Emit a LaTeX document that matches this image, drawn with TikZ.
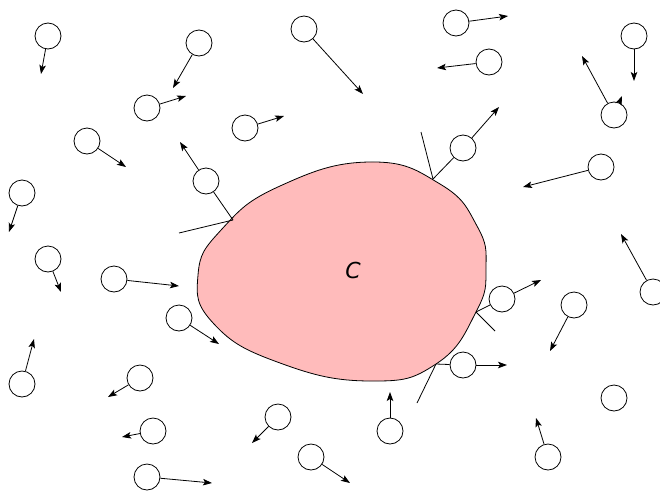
\documentclass[tikz,border=0pt]{standalone}
\usepackage{fontspec}
\usetikzlibrary{arrows.meta}
\newfontfamily\labelfont{DejaVu Sans}
\definecolor{bodypink}{RGB}{255,187,187}
\tikzset{
  grain/.style={draw, circle, minimum size=26pt, inner sep=0pt, line width=0.8pt},
  vel/.style={-{Stealth[length=9pt, width=6.5pt, inset=2pt]}, line width=0.8pt},
  touch/.style={line width=0.8pt},
  body/.style={draw, line width=0.8pt, fill=bodypink},
}

\begin{document}
\begin{tikzpicture}[x=1pt, y=-1pt]
  \useasboundingbox (0,0) rectangle (660,490);
  % the body
  \draw[body] plot[smooth cycle, tension=0.8] coordinates {(198,275) (222,229) (280,186) (370,162) (440,184) (477,226) (486,268) (476,312) (436,364) (370,381) (280,363) (214,324)};
  \node (clabel) at (353,270) {\labelfont\fontsize{22}{22}\selectfont\itshape C};
  % free grains
  \node[grain] (g1) at (48,36) {}; \coordinate (v1) at (41,74); \draw[vel] (g1) -- (v1);
  \node[grain] (g2) at (199,43) {}; \coordinate (v2) at (173,88); \draw[vel] (g2) -- (v2);
  \node[grain] (g3) at (147,108) {}; \coordinate (v3) at (186,96); \draw[vel] (g3) -- (v3);
  \node[grain] (g4) at (87,141) {}; \coordinate (v4) at (126,167); \draw[vel] (g4) -- (v4);
  \node[grain] (g5) at (304,29) {}; \coordinate (v5) at (363,94); \draw[vel] (g5) -- (v5);
  \node[grain] (g6) at (245,128) {}; \coordinate (v6) at (284,116); \draw[vel] (g6) -- (v6);
  \node[grain] (g7) at (456,23) {}; \coordinate (v7) at (508,16); \draw[vel] (g7) -- (v7);
  \node[grain] (g8) at (489,62) {}; \coordinate (v8) at (437,68); \draw[vel] (g8) -- (v8);
  \node[grain] (g9) at (634,36) {}; \coordinate (v9) at (634,81); \draw[vel] (g9) -- (v9);
  \node[grain] (g10) at (614,115) {}; \coordinate (v10) at (582,56); \draw[vel] (g10) -- (v10);
  \coordinate (w10) at (622,96); \draw[vel] (g10) -- (w10);
  \node[grain] (g11) at (601,167) {}; \coordinate (v11) at (523,187); \draw[vel] (g11) -- (v11);
  \node[grain] (g12) at (653,292) {}; \coordinate (v12) at (621,234); \draw[vel] (g12) -- (v12);
  \node[grain] (g13) at (574,305) {}; \coordinate (v13) at (550,351); \draw[vel] (g13) -- (v13);
  \node[grain] (g14) at (22,193) {}; \coordinate (v14) at (9,232); \draw[vel] (g14) -- (v14);
  \node[grain] (g15) at (48,259) {}; \coordinate (v15) at (61,292); \draw[vel] (g15) -- (v15);
  \node[grain] (g16) at (114,279) {}; \coordinate (v16) at (179,286); \draw[vel] (g16) -- (v16);
  \node[grain] (g17) at (179,318) {}; \coordinate (v17) at (219,344); \draw[vel] (g17) -- (v17);
  \node[grain] (g18) at (22,384) {}; \coordinate (v18) at (34,339); \draw[vel] (g18) -- (v18);
  \node[grain] (g19) at (140,378) {}; \coordinate (v19) at (108,397); \draw[vel] (g19) -- (v19);
  \node[grain] (g20) at (153,431) {}; \coordinate (v20) at (122,437); \draw[vel] (g20) -- (v20);
  \node[grain] (g21) at (147,477) {}; \coordinate (v21) at (212,483); \draw[vel] (g21) -- (v21);
  \node[grain] (g22) at (278,417) {}; \coordinate (v22) at (252,443); \draw[vel] (g22) -- (v22);
  \node[grain] (g23) at (311,457) {}; \coordinate (v23) at (350,483); \draw[vel] (g23) -- (v23);
  \node[grain] (g24) at (390,431) {}; \coordinate (v24) at (390,392); \draw[vel] (g24) -- (v24);
  \node[grain] (g25) at (614,398) {};
  \node[grain] (g26) at (548,457) {}; \coordinate (v26) at (536,418); \draw[vel] (g26) -- (v26);
  % grains touching the body
  \node[grain] (k1) at (206,181) {}; \coordinate (u1) at (180,142); \draw[vel] (k1) -- (u1);
  \coordinate (t1) at (233,220); \coordinate (s1) at (179,233);
  \draw[touch] (t1) -- (k1); \draw[touch] (t1) -- (s1);
  \node[grain] (k2) at (463,148) {}; \coordinate (u2) at (499,107); \draw[vel] (k2) -- (u2);
  \coordinate (t2) at (433,179); \coordinate (s2) at (421,132);
  \draw[touch] (t2) -- (k2); \draw[touch] (t2) -- (s2);
  \node[grain] (k3) at (502,299) {}; \coordinate (u3) at (541,280); \draw[vel] (k3) -- (u3);
  \coordinate (t3) at (476,312); \coordinate (s3) at (495,331);
  \draw[touch] (t3) -- (k3); \draw[touch] (t3) -- (s3);
  \node[grain] (k4) at (463,365) {}; \coordinate (u4) at (507,365); \draw[vel] (k4) -- (u4);
  \coordinate (t4) at (436,364); \coordinate (s4) at (417,403);
  \draw[touch] (t4) -- (k4); \draw[touch] (t4) -- (s4);
\end{tikzpicture}
\end{document}
